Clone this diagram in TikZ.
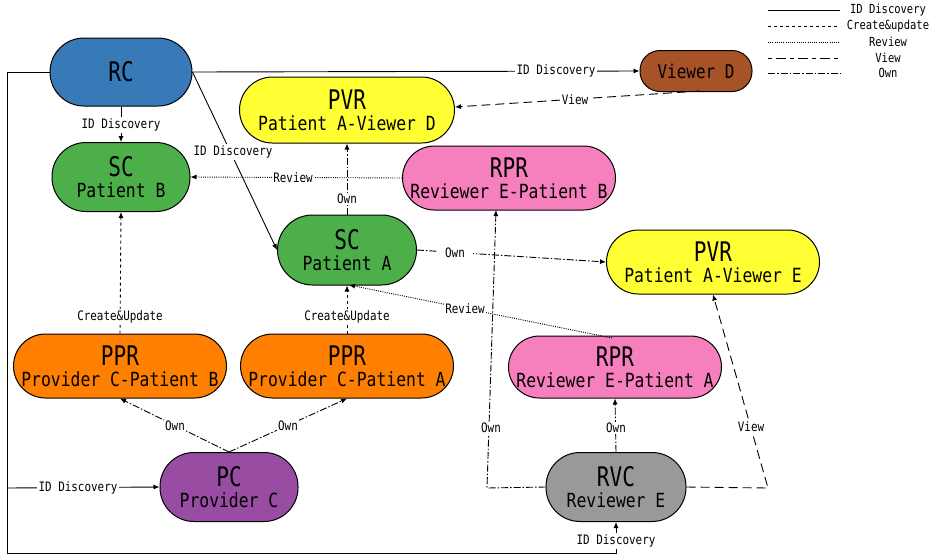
\documentclass[tikz,border=0pt]{standalone}
\usepackage{fontspec}
\setmainfont[FakeStretch=0.84]{DejaVu Sans Mono}
\newfontfamily\titlefam[FakeStretch=0.78]{DejaVu Sans Mono}
\usetikzlibrary{arrows.meta}
\definecolor{cRC}{RGB}{55,122,183}
\definecolor{cSC}{RGB}{76,175,74}
\definecolor{cPVR}{RGB}{255,255,51}
\definecolor{cVD}{RGB}{168,82,40}
\definecolor{cRPR}{RGB}{246,128,190}
\definecolor{cPPR}{RGB}{255,128,0}
\definecolor{cPC}{RGB}{152,77,162}
\definecolor{cRVC}{RGB}{153,153,153}
\newcommand{\tfnt}{\titlefam\fontsize{27}{21}\selectfont}
\newcommand{\sfnt}{\fontsize{19.5}{21}\selectfont}
\newcommand{\twol}[2]{{\tfnt #1}\\{\sfnt #2}}
\tikzset{
  stad/.style n args={4}{draw=black, line width=1pt, fill=#4, rounded corners=#3, minimum width=#1, minimum height=#2, inner sep=0pt, align=center, font=\sfnt},
  lbl/.style={fill=white, inner sep=1.5pt, font=\fontsize{13}{13}\selectfont},
  conn/.style={line width=0.9pt, -{Latex[length=6pt,width=5pt]}},
  idd/.style={conn},
  cre/.style={conn, dash pattern=on 3pt off 3pt},
  rev/.style={conn, dash pattern=on 1pt off 1.2pt},
  vie/.style={conn, dash pattern=on 9pt off 5pt},
  own/.style={conn, dash pattern=on 7pt off 2pt on 1.5pt off 2pt},
  lg/.style={line width=0.9pt}
}
\begin{document}
\begin{tikzpicture}[x=1pt,y=-1pt]
\useasboundingbox (0,0) rectangle (936,555);
% nodes
\node[stad={142}{68}{34}{cRC}] (rc) at (121,72) {\tfnt RC};
\node[stad={138}{69}{34}{cSC}] (scB) at (121,177) {\twol{SC}{Patient B}};
\node[stad={215}{66}{33}{cPVR}] (pvrD) at (347,110) {\twol{PVR}{Patient A-Viewer D}};
\node[stad={112}{41}{20}{cVD}] (vd) at (696,71) {\fontsize{19}{19}\selectfont Viewer D};
\node[stad={213}{64}{32}{cRPR}] (rprB) at (509,178) {\twol{RPR}{Reviewer E-Patient B}};
\node[stad={139}{70}{35}{cSC}] (scA) at (347,250) {\twol{SC}{Patient A}};
\node[stad={213}{64}{32}{cPVR}] (pvrE) at (713,262) {\twol{PVR}{Patient A-Viewer E}};
\node[stad={213}{64}{32}{cPPR}] (pprB) at (120,366) {\twol{PPR}{Provider C-Patient B}};
\node[stad={213}{64}{32}{cPPR}] (pprA) at (347,366) {\twol{PPR}{Provider C-Patient A}};
\node[stad={213}{62}{31}{cRPR}] (rprA) at (615,367) {\twol{RPR}{Reviewer E-Patient A}};
\node[stad={138}{69}{34}{cPC}] (pc) at (229,487) {\twol{PC}{Provider C}};
\node[stad={140}{69}{34}{cRVC}] (rvc) at (616,487) {\twol{RVC}{Reviewer E}};
% coordinates
\coordinate (lt) at (7,72);
\coordinate (lb) at (7,553);
\coordinate (lpc) at (7,488);
\coordinate (rbB) at (496,210);
\coordinate (rvcL) at (487,488);
\coordinate (rvcR) at (768,488);
\coordinate (vdS) at (700,91);
\coordinate (pvrDE) at (455,107);
\coordinate (rpaS) at (612,338);
\coordinate (scAS) at (349,285);
% ID discovery
\draw[idd] (rc.west) -- (lt) -- (lb) -| (rvc.south);
\node[lbl] (l1) at (616,541) {ID Discovery};
\draw[idd] (lpc) -- (pc.west);
\node[lbl] (l2) at (78,488) {ID Discovery};
\draw[idd] (rc.east) -- (vd.west);
\node[lbl] (l3) at (556,71) {ID Discovery};
\draw[idd] (rc.south) -- (scB.north);
\node[lbl] (l4) at (121,125) {ID Discovery};
\draw[idd] (rc.east) -- (scA.west);
\node[lbl] (l5) at (233,152) {ID Discovery};
% view
\draw[vie] (vdS) -- (pvrDE);
\node[lbl] (l6) at (575,100) {View};
\draw[vie] (rvc.east) -- (rvcR) -- (pvrE.south);
\node[lbl] (l7) at (751,427) {View};
% own
\draw[own] (scA.north) -- (pvrD.south);
\node[lbl] (l8) at (347,199) {Own};
\draw[own] (scA.east) -- (pvrE.west);
\node[lbl,inner xsep=8pt] (l9) at (455,253) {Own};
\draw[own] (pc.north) -- (pprB.south);
\node[lbl] (l10) at (175,426) {Own};
\draw[own] (pc.north) -- (pprA.south);
\node[lbl] (l11) at (288,426) {Own};
\draw[own] (rvc.north) -- (rprA.south);
\node[lbl] (l12) at (616,428) {Own};
\draw[own] (rvc.west) -- (rvcL) -- (rbB);
\node[lbl] (l13) at (491,428) {Own};
% review
\draw[rev] (rprB.west) -- (scB.east);
\node[lbl] (l14) at (293,178) {Review};
\draw[rev] (rpaS) -- (scAS);
\node[lbl] (l15) at (465,309) {Review};
% create
\draw[cre] (pprA.north) -- (scA.south);
\node[lbl] (l16) at (347,317) {Create\&Update};
\draw[cre] (pprB.north) -- (scB.south);
\node[lbl] (l17) at (120,317) {Create\&Update};
% legend
\coordinate (g1a) at (768,10); \coordinate (g1b) at (840,10);
\coordinate (g2a) at (768,26); \coordinate (g2b) at (840,26);
\coordinate (g3a) at (768,42); \coordinate (g3b) at (840,42);
\coordinate (g4a) at (768,58); \coordinate (g4b) at (840,58);
\coordinate (g5a) at (768,73); \coordinate (g5b) at (840,73);
\draw[lg] (g1a) -- (g1b);
\draw[lg, dash pattern=on 3pt off 3pt] (g2a) -- (g2b);
\draw[lg, dash pattern=on 1pt off 1.2pt] (g3a) -- (g3b);
\draw[lg, dash pattern=on 4pt off 4pt on 10pt off 4pt] (g4a) -- (g4b);
\draw[lg, dash pattern=on 7pt off 2pt on 1.5pt off 2pt] (g5a) -- (g5b);
\node[lbl,font=\fontsize{12.5}{12}\selectfont] (t1) at (888,10) {ID Discovery};
\node[lbl,font=\fontsize{12.5}{12}\selectfont] (t2) at (888,26) {Create\&update};
\node[lbl,font=\fontsize{12.5}{12}\selectfont] (t3) at (888,42) {Review};
\node[lbl,font=\fontsize{12.5}{12}\selectfont] (t4) at (888,58) {View};
\node[lbl,font=\fontsize{12.5}{12}\selectfont] (t5) at (888,73) {Own};
\end{tikzpicture}
\end{document}
